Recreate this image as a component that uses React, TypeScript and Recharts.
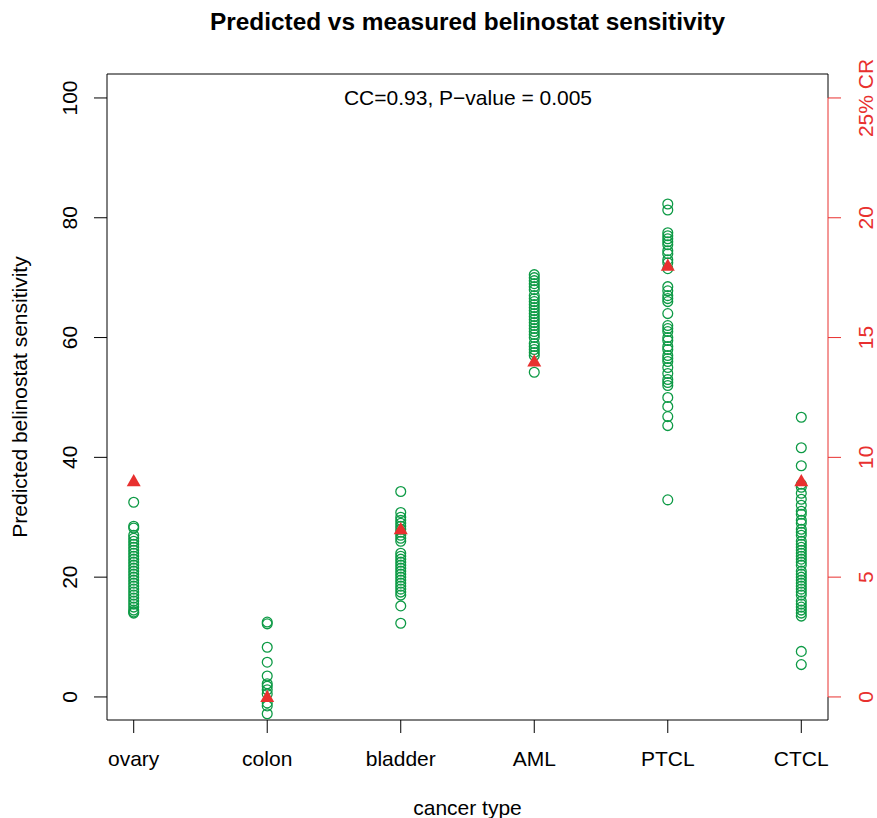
import React from 'react'
import {
  ScatterChart,
  Scatter,
  XAxis,
  YAxis,
  ReferenceLine,
} from 'recharts'

const categories = ['ovary', 'colon', 'bladder', 'AML', 'PTCL', 'CTCL']

const ovary = [32.5, 28.5, 28.2, 27, 26.5, 26, 25.5, 25, 24.5, 24, 23.5, 23, 22.5, 22, 21.5, 21, 20.5, 20, 19.5, 19, 18.5, 18, 17.5, 17, 16.5, 16, 15.5, 15, 14.5, 14.2, 14]
const colon = [12.5, 12.2, 8.3, 5.8, 3.5, 2.2, 1.8, 1.2, 0.5, -1, -1.5, -2.8]
const bladder = [34.3, 30.8, 30, 29.5, 29, 28.5, 28, 27.5, 27, 26.5, 26, 24, 23.5, 23, 22.5, 22, 21.5, 21, 20.5, 20, 19.5, 19, 18.5, 18, 17.5, 17, 15.2, 12.3]
const aml = [70.5, 70, 69.5, 69, 68.5, 68, 67, 66.5, 66, 65.5, 65, 64.5, 64, 63.5, 63, 62.5, 62, 61.5, 61, 60.5, 60, 59, 58.5, 58, 57.5, 57, 54.2]
const ptcl = [82.3, 81.3, 77.5, 77, 76.5, 76, 75.5, 74.5, 74, 73, 72.5, 71.5, 68.5, 67.8, 67, 66.5, 66, 64, 62, 61.5, 61, 60, 59.5, 58.5, 58, 57, 56.5, 56, 55, 54, 53, 52.5, 52, 50, 48.5, 46.8, 45.3, 32.9]
const ctcl = [46.7, 41.6, 38.6, 35.5, 35, 34, 33, 32, 31, 30.5, 29.5, 29, 28, 27.5, 27, 26, 25.5, 25, 24.5, 24, 23.5, 23, 22.5, 22, 21, 20.5, 20, 19.5, 19, 18.5, 18, 17.5, 17, 16, 15.5, 15, 14.5, 14, 13.5, 7.6, 5.4]

// measured 25% CR per cancer type (right axis)
const measuredCR = [9, 0, 7, 14, 18, 9]

const leftTicks = [0, 20, 40, 60, 80, 100]
const rightTicks = [0, 5, 10, 15, 20, 25]
const xTicks = [1, 2, 3, 4, 5, 6]

const predicted = [ovary, colon, bladder, aml, ptcl, ctcl]
const predictedData = predicted.flatMap((vals, i) => vals.map((v) => ({ x: i + 1, y: v })))
const measuredData = measuredCR.map((v, i) => ({ x: i + 1, y: v }))

const GREEN = '#0d9a45'
const RED = '#e8302f'
const FONT = '"Liberation Sans", Arial, Helvetica, sans-serif'
const FS = 21

const X_MIN = 0.8
const X_MAX = 6.2
const Y_MIN = -3.85
const Y_MAX = 104
const RATIO = 4

function OpenCircle(props: any) {
  const { cx, cy } = props
  return <circle cx={cx} cy={cy} r={4.9} fill="none" stroke={GREEN} strokeWidth={1.3} />
}

function Triangle(props: any) {
  const { cx, cy } = props
  const h = 12
  const w = 14
  return (
    <polygon
      points={`${cx},${cy - h * 0.6} ${cx - w / 2},${cy + h * 0.42} ${cx + w / 2},${cy + h * 0.42}`}
      fill={RED}
    />
  )
}

function LeftTick(props: any) {
  const { x, y, payload } = props
  const bx = x - 14.5
  return (
    <text x={bx} y={y} transform={`rotate(-90 ${bx} ${y})`} textAnchor="middle" fontSize={FS} fontFamily={FONT} fill="#000">
      {payload.value}
    </text>
  )
}

function RightTick(props: any) {
  const { x, y, payload } = props
  const bx = x + 30
  const label = payload.value === 25 ? '25% CR' : String(payload.value)
  return (
    <text x={bx} y={y} transform={`rotate(-90 ${bx} ${y})`} textAnchor="middle" fontSize={FS} fontFamily={FONT} fill={RED}>
      {label}
    </text>
  )
}

function BottomTick(props: any) {
  const { x, y, payload } = props
  return (
    <text x={x} y={y + 31} textAnchor="middle" fontSize={FS} fontFamily={FONT} fill="#000">
      {categories[payload.value - 1]}
    </text>
  )
}

export default function App() {
  return (
    <div style={{ position: 'absolute', left: 0, top: 0, background: '#fff' }}>
      <ScatterChart width={877} height={818} margin={{ top: 74, right: 0, bottom: 0, left: 0 }}>
        <XAxis
          type="number"
          dataKey="x"
          domain={[X_MIN, X_MAX]}
          ticks={xTicks}
          allowDataOverflow
          height={98}
          tickSize={13}
          tick={<BottomTick />}
          tickLine={{ stroke: '#000' }}
          axisLine={{ stroke: '#000' }}
          label={{
            content: () => (
              <text x={467.5} y={815} textAnchor="middle" fontSize={FS} fontFamily={FONT} fill="#000">
                cancer type
              </text>
            ),
          }}
        />
        <YAxis
          yAxisId="left"
          type="number"
          dataKey="y"
          domain={[Y_MIN, Y_MAX]}
          ticks={leftTicks}
          allowDataOverflow
          width={107}
          tickSize={13}
          tick={<LeftTick />}
          tickLine={{ stroke: '#000' }}
          axisLine={{ stroke: '#000' }}
          label={{
            content: () => (
              <text x={27} y={397} transform="rotate(-90 27 397)" textAnchor="middle" fontSize={FS} fontFamily={FONT} fill="#000">
                Predicted belinostat sensitivity
              </text>
            ),
          }}
        />
        <YAxis
          yAxisId="right"
          orientation="right"
          type="number"
          dataKey="y"
          domain={[Y_MIN / RATIO, Y_MAX / RATIO]}
          ticks={rightTicks}
          allowDataOverflow
          width={49}
          tickSize={13}
          tick={<RightTick />}
          tickLine={{ stroke: RED }}
          axisLine={false}
        />
        {/* top edge of the box, carrying title and annotation */}
        <ReferenceLine
          yAxisId="left"
          y={Y_MAX}
          stroke="#000"
          strokeWidth={1}
          label={{
            content: () => (
              <>
                <text x={467.5} y={30} textAnchor="middle" fontSize={24.4} fontWeight="bold" fontFamily={FONT} fill="#000">
                  Predicted vs measured belinostat sensitivity
                </text>
                <text x={468} y={105} textAnchor="middle" fontSize={FS} fontFamily={FONT} fill="#000">
                  CC=0.93, P−value = 0.005
                </text>
              </>
            ),
          }}
        />
        {/* right edge: black outside the CR range, red axis line inside */}
        <ReferenceLine
          yAxisId="right"
          segment={[
            { x: X_MAX, y: Y_MIN / RATIO },
            { x: X_MAX, y: 0 },
          ]}
          stroke="#000"
          strokeWidth={1}
        />
        <ReferenceLine
          yAxisId="right"
          segment={[
            { x: X_MAX, y: 25 },
            { x: X_MAX, y: Y_MAX / RATIO },
          ]}
          stroke="#000"
          strokeWidth={1}
        />
        <ReferenceLine
          yAxisId="right"
          segment={[
            { x: X_MAX, y: 0 },
            { x: X_MAX, y: 25 },
          ]}
          stroke={RED}
          strokeWidth={1}
        />
        <Scatter yAxisId="left" data={predictedData} shape={<OpenCircle />} isAnimationActive={false} />
        <Scatter yAxisId="right" data={measuredData} shape={<Triangle />} isAnimationActive={false} />
      </ScatterChart>
    </div>
  )
}
